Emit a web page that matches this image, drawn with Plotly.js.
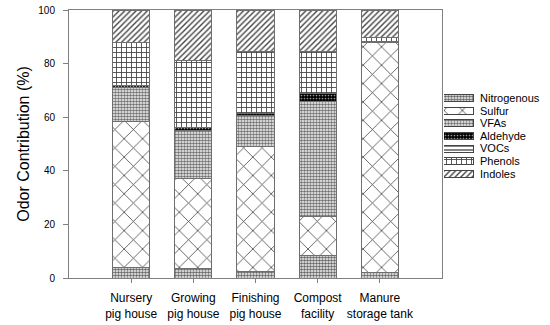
<!DOCTYPE html>
<html>
<head>
<meta charset="utf-8">
<script src="https://cdn.plot.ly/plotly-3.0.1.min.js"></script>
<style>html,body{margin:0;padding:0;background:#fff;}#chart{width:550px;height:325px;}</style>
</head>
<body>
<div id="chart"></div>
<script>
const categories = ['Nursery<br>pig house', 'Growing<br>pig house', 'Finishing<br>pig house', 'Compost<br>facility', 'Manure<br>storage tank'];
const seriesNames = ['Nitrogenous', 'Sulfur', 'VFAs', 'Aldehyde', 'VOCs', 'Phenols', 'Indoles'];
const nitrogenous = [4.0, 3.6, 2.4, 8.3, 2.0];
const sulfur      = [54.5, 33.4, 46.6, 14.6, 85.8];
const vfas        = [12.5, 18.2, 11.8, 43.1, 0.5];
const aldehyde    = [0.8, 0.8, 0.6, 2.7, 0.0];
const vocs        = [0.0, 0.0, 0.0, 0.0, 0.0];
const phenols     = [16.0, 25.3, 23.0, 15.7, 1.4];
const indoles     = [12.2, 18.7, 15.6, 15.6, 10.3];
const seriesValues = [nitrogenous, sulfur, vfas, aldehyde, vocs, phenols, indoles];

const patterns = [
  {shape: '.', size: 3, solidity: 0.6, fgcolor: '#666', bgcolor: '#fff'},
  {shape: 'x', size: 13, solidity: 0.12, fgcolor: '#444', bgcolor: '#fff'},
  {shape: '.', size: 3, solidity: 0.6, fgcolor: '#707070', bgcolor: '#fff'},
  {shape: '.', size: 3, solidity: 0.25, fgcolor: '#999', bgcolor: '#000'},
  {shape: '-', size: 4, solidity: 0.3, fgcolor: '#333', bgcolor: '#fff'},
  {shape: '+', size: 5, solidity: 0.32, fgcolor: '#444', bgcolor: '#fff'},
  {shape: '/', size: 4, solidity: 0.35, fgcolor: '#444', bgcolor: '#fff'}
];

const traces = [];
seriesNames.forEach((name, i) => {
  traces.push({
    type: 'bar', name: name, x: categories, y: seriesValues[i],
    xaxis: 'x', yaxis: 'y', width: 0.6, showlegend: false,
    marker: {color: '#fff', pattern: patterns[i], line: {color: '#6e6e6e', width: 1}}
  });
});
// Legend swatches drawn as bars on a small auxiliary axis
seriesNames.forEach((name, i) => {
  traces.push({
    type: 'bar', orientation: 'h', name: name, y: [name], x: [1],
    xaxis: 'x2', yaxis: 'y2', width: 0.55, showlegend: false, hoverinfo: 'skip',
    marker: {color: '#fff', pattern: patterns[i], line: {color: '#444', width: 1}}
  });
});

const font = 'Liberation Sans, Arial, sans-serif';
const layout = {
  width: 550, height: 325,
  margin: {l: 69, r: 0, t: 10, b: 47},
  paper_bgcolor: '#fff', plot_bgcolor: '#fff',
  barmode: 'stack',
  showlegend: false,
  font: {family: font, color: '#000'},
  xaxis: {
    domain: [0, 0.7755], type: 'category', range: [-1, 5],
    showline: true, linecolor: '#808080', linewidth: 1, mirror: true,
    ticks: 'outside', ticklen: 4, tickcolor: '#808080', ticklabelstandoff: 5,
    tickfont: {size: 12, family: font, color: '#000'},
    showgrid: false, zeroline: false
  },
  yaxis: {
    range: [0, 100], dtick: 20,
    showline: true, linecolor: '#808080', linewidth: 1, mirror: true,
    ticks: 'outside', ticklen: 5, tickcolor: '#808080', ticklabelstandoff: 6,
    tickfont: {size: 10, family: font, color: '#000'},
    showgrid: false, zeroline: false,
    title: {text: 'Odor Contribution (%)', font: {size: 16, family: font, color: '#000'}, standoff: 4}
  },
  xaxis2: {
    domain: [0.7796, 0.842], range: [0, 1], anchor: 'y2',
    visible: false, showgrid: false, zeroline: false, fixedrange: true
  },
  yaxis2: {
    domain: [0.3657, 0.694], anchor: 'x2', type: 'category',
    categoryorder: 'array', categoryarray: seriesNames,
    tickmode: 'array', tickvals: seriesNames, ticktext: seriesNames,
    range: [6.5, -0.5], side: 'right',
    showline: false, ticks: '', showgrid: false, zeroline: false,
    ticklabelstandoff: 5,
    tickfont: {size: 11, family: font, color: '#000'}
  }
};

Plotly.newPlot('chart', traces, layout, {displayModeBar: false, staticPlot: true});
</script>
</body>
</html>
